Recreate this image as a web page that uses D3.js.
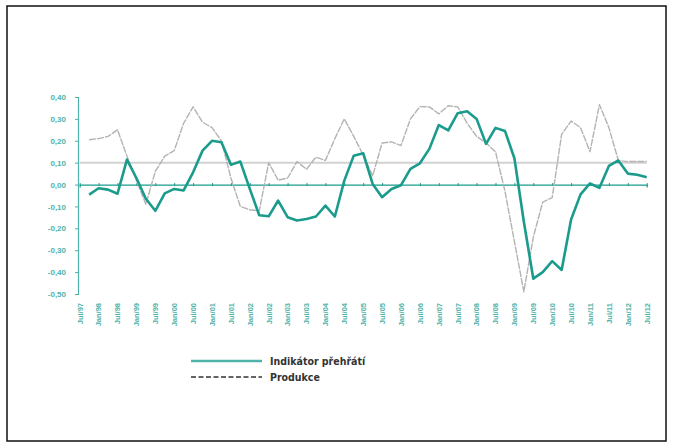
<!DOCTYPE html>
<html>
<head>
<meta charset="utf-8">
<script src="https://cdn.jsdelivr.net/npm/d3@7"></script>
<style>
  html, body { margin: 0; padding: 0; background: #fff; }
  svg { display: block; }
</style>
</head>
<body>
<svg id="chart" width="674" height="448"></svg>
<script>
// Semi-annual axis labels (one tick every second quarter)
const tickLabels = ["Jul/97","Jan/98","Jul/98","Jan/99","Jul/99","Jan/00","Jul/00","Jan/01","Jul/01","Jan/02","Jul/02","Jan/03","Jul/03","Jan/04","Jul/04","Jan/05","Jul/05","Jan/06","Jul/06","Jan/07","Jul/07","Jan/08","Jul/08","Jan/09","Jul/09","Jan/10","Jul/10","Jan/11","Jul/11","Jan/12","Jul/12"];
// Quarterly data, first value = Oct/97 (quarter index 1, Jul/97 = 0)
const firstQuarter = 1;
const indikator = [-0.046,-0.017,-0.023,-0.042,0.114,0.03,-0.065,-0.12,-0.04,-0.02,-0.027,0.056,0.155,0.20,0.193,0.09,0.105,-0.02,-0.14,-0.145,-0.073,-0.149,-0.164,-0.157,-0.146,-0.096,-0.146,0.018,0.132,0.143,0.003,-0.058,-0.02,-0.003,0.072,0.097,0.163,0.272,0.247,0.326,0.335,0.30,0.186,0.259,0.245,0.12,-0.17,-0.43,-0.40,-0.35,-0.39,-0.16,-0.045,0.005,-0.015,0.085,0.11,0.05,0.045,0.033];
const produkce = [0.205,0.21,0.22,0.25,0.13,0.02,-0.09,0.06,0.13,0.155,0.28,0.355,0.285,0.26,0.20,0.03,-0.10,-0.115,-0.12,0.10,0.02,0.03,0.105,0.07,0.125,0.11,0.21,0.30,0.22,0.135,0.04,0.19,0.195,0.178,0.30,0.356,0.355,0.323,0.36,0.355,0.28,0.22,0.19,0.15,-0.03,-0.26,-0.49,-0.24,-0.08,-0.06,0.23,0.29,0.26,0.15,0.365,0.26,0.11,0.105,0.105,0.105];
const yTicks = [0.4,0.3,0.2,0.1,0,-0.1,-0.2,-0.3,-0.4,-0.5];
const refLevel = 0.10;
const seriesNames = ["Indikátor přehřátí","Produkce"];

const teal = "#1a9b8c";
const tealLight = "#4fb3a9";
const svg = d3.select("#chart");

// frame
svg.append("rect").attr("x",7).attr("y",6).attr("width",659).attr("height",435)
  .attr("fill","none").attr("stroke","#111").attr("stroke-width",1.5);

const nQ = (tickLabels.length - 1) * 2;
const x = d3.scaleLinear().domain([0, nQ]).range([79.7, 646.7]);
const y = d3.scaleLinear().domain([-0.5, 0.4]).range([294, 97]);

// reference line at 0.10
svg.append("line").attr("x1", x(0)).attr("x2", x(nQ))
  .attr("y1", y(refLevel)).attr("y2", y(refLevel))
  .attr("stroke","#d2d2d2").attr("stroke-width",2);

// y axis
const yAxis = d3.axisLeft(y).tickValues(yTicks).tickSize(3).tickPadding(9)
  .tickFormat(d => d3.format(".2f")(d).replace(".", ",").replace("−","-"));
const gy = svg.append("g").attr("transform", `translate(78,0)`).call(yAxis);
gy.select(".domain").attr("stroke", tealLight).attr("stroke-width",1.2);
gy.selectAll(".tick line").attr("stroke", tealLight);
gy.selectAll("text").attr("fill", tealLight).attr("font-size","8px")
  .attr("font-family","'Liberation Sans',Arial,sans-serif").attr("font-weight","bold");

// x axis on zero line
const xAxis = d3.axisBottom(x).tickValues(d3.range(0, nQ + 1, 2)).tickSize(3).tickFormat(() => "");
const gx = svg.append("g").attr("transform", `translate(0,${y(0)})`).call(xAxis);
gx.select(".domain").attr("stroke", teal).attr("stroke-width",1.2);
gx.selectAll(".tick line").attr("stroke", teal).attr("y1", -1.5).attr("y2", 1.5);

// x labels at bottom, rotated
svg.append("g").selectAll("text").data(tickLabels).join("text")
  .attr("transform", (d,i) => `translate(${x(i*2) + 2.8},303) rotate(-90)`)
  .attr("text-anchor","end")
  .attr("fill", tealLight).attr("font-size","7.5px").attr("font-weight","bold")
  .attr("font-family","'Liberation Sans',Arial,sans-serif")
  .text(d => d);

const line = d3.line().x((d,i) => x(i + firstQuarter)).y(d => y(d));

svg.append("path").datum(produkce).attr("d", line)
  .attr("fill","none").attr("stroke","#b3b3b3").attr("stroke-width",1.4)
  .attr("stroke-dasharray","7,1").attr("stroke-linejoin","round");

svg.append("path").datum(indikator).attr("d", line)
  .attr("fill","none").attr("stroke", teal).attr("stroke-width",2.6)
  .attr("stroke-linejoin","round");

// legend
const lg = svg.append("g");
lg.append("line").attr("x1",191).attr("x2",262).attr("y1",361).attr("y2",361)
  .attr("stroke", tealLight).attr("stroke-width",2.6);
lg.append("line").attr("x1",191).attr("x2",262).attr("y1",377).attr("y2",377)
  .attr("stroke","#333").attr("stroke-width",1.5).attr("stroke-dasharray","5,2.5");
lg.selectAll("text").data(seriesNames).join("text")
  .attr("x",270).attr("y",(d,i) => 364.5 + i*16)
  .attr("fill","#333").attr("font-size","10.5px").attr("font-weight","bold")
  .attr("font-family","'Liberation Sans Narrow','DejaVu Sans Condensed',sans-serif")
  .text(d => d);
</script>
</body>
</html>
